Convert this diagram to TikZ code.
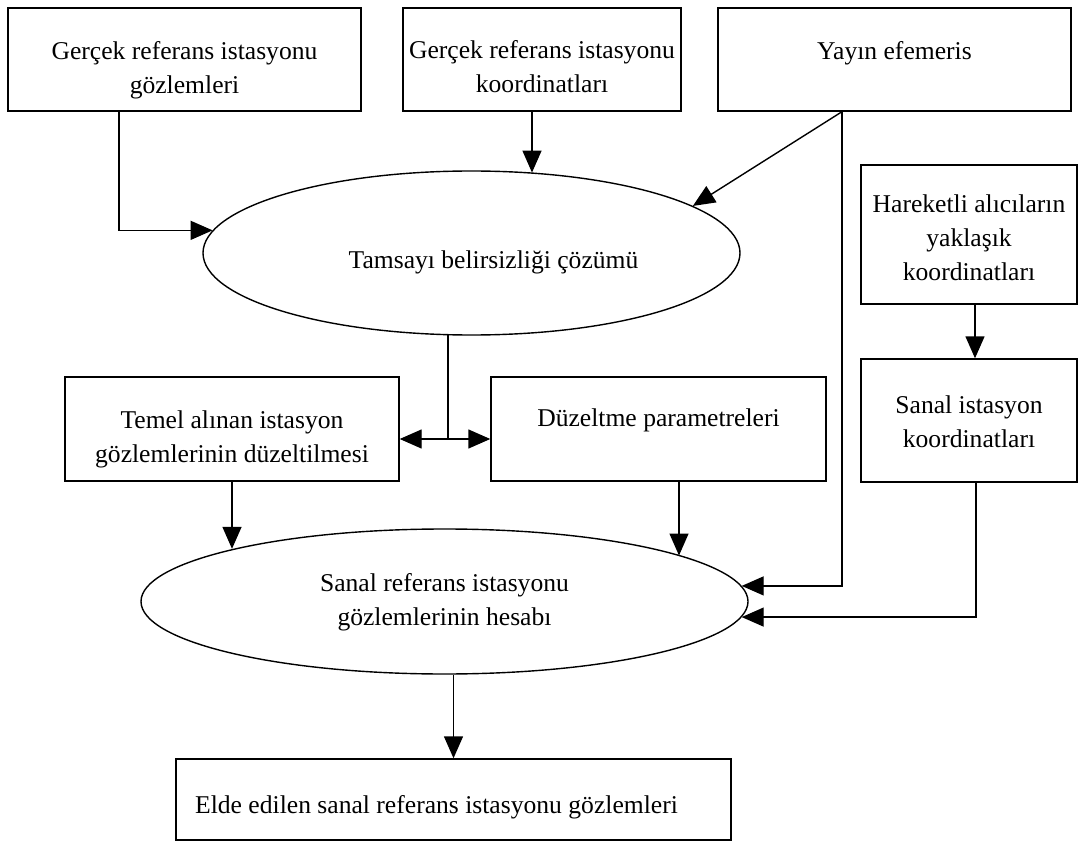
\documentclass[tikz,border=0pt]{standalone}
\usepackage{fontspec}
\setmainfont{Liberation Serif}
\usetikzlibrary{arrows.meta,shapes.geometric}

% text block, raised (or lowered) without changing its size
\newcommand{\btext}[2][0pt]{\raisebox{#1}[\height][\depth]{\begin{tabular}{@{}c@{}}#2\end{tabular}}}

\tikzset{
  box/.style={draw, rectangle, inner sep=0pt},
  oval/.style={draw, ellipse, inner sep=0pt},
  arr/.style={-{Triangle[length=22pt,width=19pt]}}
}

\begin{document}
\begin{tikzpicture}[x=1pt, y=-1pt, line width=1.4pt, font=\fontsize{25.6}{34}\selectfont]
  \fill[white] (0,0) rectangle (1087,842);
  \useasboundingbox (0,0) rectangle (1087,842);

  % inputs, top row
  \node[box, minimum width=353pt, minimum height=103pt] (gozlem) at (184.5,59.5) {\btext[-10.5pt]{Gerçek referans istasyonu\\gözlemleri}};
  \node[box, minimum width=278pt, minimum height=103pt] (koord) at (542,59.5) {\btext[-9pt]{Gerçek referans istasyonu\\koordinatları}};
  \node[box, minimum width=353pt, minimum height=103pt] (efem) at (894.5,59.5) {\btext[6.5pt]{Yayın efemeris}};

  % ambiguity
  \node[oval, minimum width=537pt, minimum height=164pt] (tamsayi) at (471.5,253) {\btext[-9pt]{\hspace*{44pt}Tamsayı belirsizliği çözümü}};

  % rover side
  \node[box, minimum width=216pt, minimum height=139pt] (hareket) at (969,234.5) {\btext[-5.5pt]{Hareketli alıcıların\\yaklaşık\\koordinatları}};
  \node[box, minimum width=216pt, minimum height=123pt] (sanalist) at (969,420.5) {\btext[-3pt]{Sanal istasyon\\koordinatları}};

  % corrections
  \node[box, minimum width=334pt, minimum height=104pt] (temel) at (232,429) {\btext[-9.5pt]{Temel alınan istasyon\\gözlemlerinin düzeltilmesi}};
  \node[box, minimum width=335pt, minimum height=104pt] (duzelt) at (658.5,429) {\btext[9pt]{Düzeltme parametreleri}};

  % virtual station
  \node[oval, minimum width=607pt, minimum height=145pt] (hesap) at (444.5,601.5) {\btext{Sanal referans istasyonu\\gözlemlerinin hesabı}};
  \node[box, minimum width=555pt, minimum height=81pt] (elde) at (453.5,799.5) {\btext[-7.5pt]{Elde edilen sanal referans istasyonu gözlemleri\hspace*{34pt}}};

  % connectors
  \coordinate (kin) at ([xshift=-10pt]koord.south);
  \coordinate (ksplit) at ([xshift=-52.5pt]efem.south);
  \coordinate (sdown) at ([xshift=7pt]sanalist.south);
  \coordinate (dout) at ([xshift=20.5pt]duzelt.south);
  \path (tamsayi.254) |- coordinate (fork) ([yshift=-10pt]temel.east);

  \draw[arr] ([xshift=-65.5pt]gozlem.south) |- (tamsayi.175.6);
  \draw[arr] (kin) -- (kin |- tamsayi.52.9);
  \draw[arr] (ksplit) -- (tamsayi.12.5);
  \draw[arr] (ksplit) |- (hesap.3.6);
  \draw[arr] ([xshift=6pt]hareket.south) -- ([xshift=6pt]sanalist.north);
  \draw[arr] (sdown) |- (hesap.-3);
  \draw (tamsayi.254) -- (fork);
  \draw[arr] (fork) -- ([yshift=-10pt]temel.east);
  \draw[arr] (fork) -- ([yshift=-10pt]duzelt.west);
  \draw[arr] (temel.south) -- (temel.south |- hesap.166.4);
  \draw[arr] (dout) -- (dout |- hesap.11.1);
  \draw[arr] (hesap.south -| elde.north) -- (elde.north);
\end{tikzpicture}
\end{document}
